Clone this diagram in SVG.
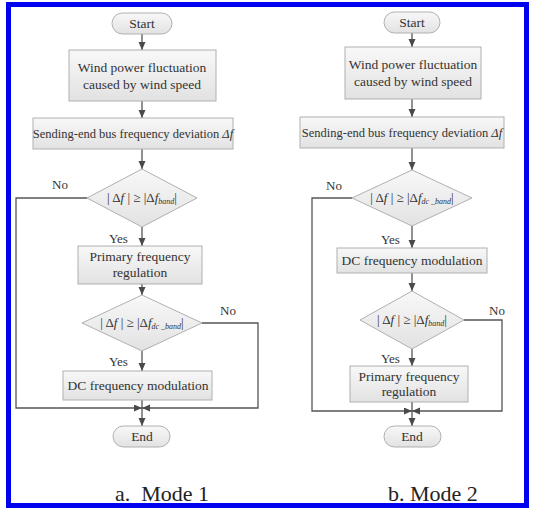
<svg xmlns="http://www.w3.org/2000/svg" width="534" height="510" viewBox="0 0 534 510">
<defs>
<linearGradient id="g" x1="0" y1="0" x2="0" y2="1"><stop offset="0" stop-color="#f8f8f8"/><stop offset="1" stop-color="#e2e2e2"/></linearGradient>
<marker id="ah" markerUnits="userSpaceOnUse" markerWidth="9" markerHeight="8" refX="8" refY="3.5" orient="auto"><path d="M0,0 L8,3.5 L0,7 z" fill="#4a4a4a"/></marker>
<style>
.n{fill:url(#g);stroke:#b0b0b0;stroke-width:1}
.t{font-family:"Liberation Serif",serif;font-size:13.5px;fill:#333;text-anchor:middle}
.t2{font-size:12.5px}
.d{font-size:13px}
.l{font-family:"Liberation Serif",serif;font-size:13px;fill:#333}
.c{fill:none;stroke:#555;stroke-width:1.3}
.a{marker-end:url(#ah)}
.s{font-size:8px;font-style:italic}
.i{font-style:italic}
.cap{font-family:"Liberation Serif",serif;font-size:22px;fill:#222;white-space:pre}
</style>
</defs>
<rect x="8.5" y="4.5" width="518" height="501" fill="#fff" stroke="#0000f0" stroke-width="5"/>

<g id="connectors">
<path class="c a" d="M142,34 V50"/>
<path class="c a" d="M142,101 V118"/>
<path class="c a" d="M142,149 V169"/>
<path class="c a" d="M142,227 V246"/>
<path class="c a" d="M142,284 V295"/>
<path class="c a" d="M142,351 V371"/>
<path class="c a" d="M142,400 V426"/>
<path class="c a" d="M87,198 H16 V408 H142"/>
<path class="c a" d="M202,323 H258 V408 H142"/>

<path class="c a" d="M412,33 V47"/>
<path class="c a" d="M412,99 V117"/>
<path class="c a" d="M412,148 V170"/>
<path class="c a" d="M412,226 V248"/>
<path class="c a" d="M412,273 V291"/>
<path class="c a" d="M412,349 V366"/>
<path class="c a" d="M412,402 V426"/>
<path class="c a" d="M352,198 H312 V411 H412"/>
<path class="c a" d="M464,320 H502 V411 H412"/>
</g>

<g id="start1"><rect class="n" x="112" y="13" width="60" height="21" rx="10.5"/><text class="t" x="142" y="28">Start</text></g>
<g id="wind1"><rect class="n" x="69" y="50" width="147" height="51"/><text class="t" x="142" y="72">Wind power fluctuation</text><text class="t" x="142" y="89">caused by wind speed</text></g>
<g id="dev1"><rect class="n" x="33" y="118" width="200" height="31"/><text class="t t2" x="133" y="138">Sending-end bus frequency deviation <tspan class="i">Δf</tspan></text></g>
<g id="dec1a"><polygon class="n" points="142,169 197,198 142,227 87,198"/><text class="t d" x="142" y="202">| Δ<tspan class="i">f</tspan> | ≥ |Δ<tspan class="i">f</tspan><tspan class="s" dy="2">band</tspan><tspan dy="-2">|</tspan></text></g>
<g id="pfr1"><rect class="n" x="78" y="246" width="124" height="38"/><text class="t" x="140" y="261">Primary frequency</text><text class="t" x="140" y="277">regulation</text></g>
<g id="dec1b"><polygon class="n" points="142,295 202,323 142,351 82,323"/><text class="t d" x="142" y="327">| Δ<tspan class="i">f</tspan> | ≥ |Δ<tspan class="i">f</tspan><tspan class="s" dy="2">dc _band</tspan><tspan dy="-2">|</tspan></text></g>
<g id="dcm1"><rect class="n" x="63" y="371" width="149" height="29"/><text class="t" x="138" y="390">DC frequency modulation</text></g>
<g id="end1"><rect class="n" x="113" y="426" width="57" height="21" rx="10.5"/><text class="t" x="142" y="441">End</text></g>
<text class="l" x="52" y="189">No</text>
<text class="l" x="109" y="243">Yes</text>
<text class="l" x="220" y="315">No</text>
<text class="l" x="109" y="366">Yes</text>

<g id="start2"><rect class="n" x="384" y="12" width="56" height="21" rx="10.5"/><text class="t" x="412" y="27">Start</text></g>
<g id="wind2"><rect class="n" x="345" y="47" width="136" height="52"/><text class="t" x="413" y="69">Wind power fluctuation</text><text class="t" x="413" y="86">caused by wind speed</text></g>
<g id="dev2"><rect class="n" x="300" y="117" width="204" height="31"/><text class="t t2" x="402" y="137">Sending-end bus frequency deviation <tspan class="i">Δf</tspan></text></g>
<g id="dec2a"><polygon class="n" points="412,170 472,198 412,226 352,198"/><text class="t d" x="412" y="202">| Δ<tspan class="i">f</tspan> | ≥ |Δ<tspan class="i">f</tspan><tspan class="s" dy="2">dc _band</tspan><tspan dy="-2">|</tspan></text></g>
<g id="dcm2"><rect class="n" x="337" y="248" width="150" height="25"/><text class="t" x="412" y="265">DC frequency modulation</text></g>
<g id="dec2b"><polygon class="n" points="412,291 464,320 412,349 360,320"/><text class="t d" x="412" y="324">| Δ<tspan class="i">f</tspan> | ≥ |Δ<tspan class="i">f</tspan><tspan class="s" dy="2">band</tspan><tspan dy="-2">|</tspan></text></g>
<g id="pfr2"><rect class="n" x="350" y="366" width="118" height="36"/><text class="t" x="409" y="381">Primary frequency</text><text class="t" x="409" y="396">regulation</text></g>
<g id="end2"><rect class="n" x="384" y="426" width="57" height="21" rx="10.5"/><text class="t" x="412" y="441">End</text></g>
<text class="l" x="326" y="190">No</text>
<text class="l" x="381" y="244">Yes</text>
<text class="l" x="489" y="315">No</text>
<text class="l" x="381" y="363">Yes</text>

<text class="cap" x="115" y="501">a.  Mode 1</text>
<text class="cap" x="388" y="501">b. Mode 2</text>
</svg>
